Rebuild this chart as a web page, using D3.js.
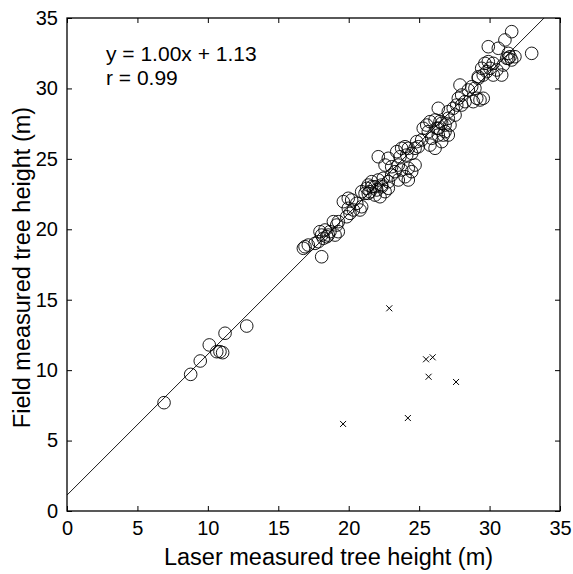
<!DOCTYPE html>
<html>
<head>
<meta charset="utf-8">
<script src="https://cdn.jsdelivr.net/npm/d3@7"></script>
<style>
body{margin:0;background:#fff;}
text{font-family:Arial,"Liberation Sans",Helvetica,sans-serif;fill:#000;}
</style>
</head>
<body>
<div id="plot" style="width:573px;height:574px;"></div>
<script>
//data (m)
var laserHeight = [6.89,8.78,9.46,10.10,10.63,10.86,11.05,11.22,12.76,
    16.90,17.13,16.78,18.08,17.61,17.84,18.20,18.44,18.55,18.08,17.96,18.32,18.67,19.03,19.26,19.15,18.91,19.26,
    19.86,20.09,19.97,19.62,20.33,20.80,20.92,20.57,19.97,20.21,20.92,21.28,21.63,21.99,22.34,21.39,
    22.10,22.81,23.41,23.76,24.00,24.23,23.64,24.12,24.47,24.71,24.94,22.58,23.05,23.52,23.29,23.76,24.23,24.47,24.71,
    24.00,24.23,23.52,21.63,22.10,22.45,21.39,21.87,22.34,22.81,23.05,21.16,21.51,21.87,22.22,22.58,22.81,
    25.29,25.54,25.77,26.13,26.60,27.07,26.84,26.36,25.89,25.77,26.13,26.60,27.07,25.65,26.25,24.83,25.18,
    26.71,26.36,26.84,26.48,27.19,26.36,27.07,27.42,27.67,27.78,28.02,28.26,28.02,27.55,27.90,28.49,28.73,28.96,
    29.09,29.32,29.55,28.84,29.20,29.55,29.80,30.03,30.26,30.51,30.86,29.67,29.91,30.26,30.97,31.22,31.57,31.80,
    31.57,31.09,29.91,30.62,31.33,31.45,31.33,32.99,29.44,29.20];
var fieldHeight = [7.69,9.70,10.65,11.79,11.31,11.31,11.24,12.62,13.13,
    18.76,18.88,18.65,18.05,19.00,19.12,19.36,19.47,19.59,19.59,19.83,19.95,19.83,19.59,19.83,20.30,20.54,20.54,
    20.89,21.13,21.49,21.96,21.37,21.37,21.60,21.84,22.20,22.08,22.67,22.91,23.02,22.79,23.02,22.55,
    25.15,25.04,25.51,25.75,25.86,25.75,25.15,25.27,25.39,25.75,25.86,24.56,24.44,24.56,24.09,24.21,24.33,24.09,24.56,
    23.73,23.50,23.50,23.38,23.50,23.62,23.14,23.02,23.14,23.38,23.85,22.55,22.67,22.43,22.31,22.67,22.91,
    27.17,27.40,27.64,27.76,27.52,27.88,26.93,26.69,26.46,25.98,25.75,26.22,26.69,26.93,27.17,26.22,26.34,
    26.69,27.17,27.40,27.64,27.40,28.59,28.35,28.59,28.82,29.30,29.53,29.06,28.82,28.11,30.24,29.89,30.12,30.01,
    29.30,29.18,29.30,29.06,30.72,30.95,31.19,31.43,30.95,31.31,30.95,31.78,31.90,31.78,31.66,32.14,32.02,32.25,
    34.03,33.44,32.96,32.85,32.49,32.25,32.14,32.49,31.43,30.83];

//excluded trees (crosses)
var outLaser = [22.88,25.49,25.96,25.67,27.62,19.60,24.20];
var outField = [14.39,10.77,10.91,9.53,9.16,6.18,6.60];

var fitSlope = 1.00, fitIntercept = 1.13, fitR = 0.99;
var xTicks = [0,5,10,15,20,25,30,35];
var yTicks = [0,5,10,15,20,25,30,35];

var margin = {t:18,r:13,b:63,l:67};
var width = document.getElementById('plot').clientWidth-margin.l-margin.r,
    height = document.getElementById('plot').clientHeight-margin.t-margin.b;

var svg = d3.select('#plot')
    .append('svg')
    .attr('width',width+margin.l+margin.r)
    .attr('height',height+margin.t+margin.b);
var plot = svg.append('g')
    .attr('transform','translate('+margin.l+','+margin.t+')');

var x = d3.scaleLinear().domain([0,35]).range([0,width]);
var y = d3.scaleLinear().domain([0,35]).range([height,0]);

svg.append('defs').append('clipPath').attr('id','clip')
    .append('rect').attr('width',width).attr('height',height);

//fit line
plot.append('line')
    .attr('clip-path','url(#clip)')
    .attr('x1',x(0)).attr('y1',y(fitIntercept))
    .attr('x2',x((35-fitIntercept)/fitSlope)).attr('y2',y(35))
    .style('stroke','#000').style('stroke-width',0.9);

//circles
plot.selectAll('circle.pt')
    .data(laserHeight)
    .enter()
    .append('circle')
    .attr('class','pt')
    .attr('cx',function(d){return x(d);})
    .attr('cy',function(d,i){return y(fieldHeight[i]);})
    .attr('r',6.3)
    .style('fill','none')
    .style('stroke','#000')
    .style('stroke-width',0.9);

//crosses
var s = 3;
plot.selectAll('path.cross')
    .data(outLaser)
    .enter()
    .append('path')
    .attr('class','cross')
    .attr('d',function(d,i){
        var cx = x(d), cy = y(outField[i]);
        return 'M'+(cx-s)+','+(cy-s)+'L'+(cx+s)+','+(cy+s)+'M'+(cx-s)+','+(cy+s)+'L'+(cx+s)+','+(cy-s);
    })
    .style('stroke','#000')
    .style('stroke-width',1);

//axes, ticks inward on all sides
function styleAxis(g){
    g.select('.domain').remove();
    g.selectAll('line').style('stroke','#000').style('stroke-width',1);
    g.selectAll('text').style('font-size','20px');
}
plot.append('g').attr('transform','translate(0,'+height+')')
    .call(d3.axisBottom(x).tickValues(xTicks).tickSize(-5).tickPadding(10))
    .call(styleAxis);
plot.append('g')
    .call(d3.axisLeft(y).tickValues(yTicks).tickSize(-5).tickPadding(9))
    .call(styleAxis);
plot.append('g')
    .call(d3.axisTop(x).tickValues(xTicks).tickSize(-5).tickFormat(''))
    .call(styleAxis);
plot.append('g').attr('transform','translate('+width+',0)')
    .call(d3.axisRight(y).tickValues(yTicks).tickSize(-5).tickFormat(''))
    .call(styleAxis);

plot.append('rect')
    .attr('width',width).attr('height',height)
    .style('fill','none').style('stroke','#000').style('stroke-width',1.3);

//equation
plot.append('text')
    .attr('x',39).attr('y',43)
    .style('font-size','21px')
    .text('y = '+fitSlope.toFixed(2)+'x + '+fitIntercept.toFixed(2));
plot.append('text')
    .attr('x',39).attr('y',67)
    .style('font-size','21px')
    .text('r = '+fitR.toFixed(2));

//axis labels
svg.append('text')
    .attr('x',margin.l+width/2+15).attr('y',565)
    .attr('text-anchor','middle')
    .style('font-size','23.5px')
    .text('Laser measured tree height (m)');
svg.append('text')
    .attr('transform','translate(30,'+(margin.t+height/2+3)+') rotate(-90)')
    .attr('text-anchor','middle')
    .style('font-size','23.5px')
    .text('Field measured tree height (m)');
</script>
</body>
</html>
